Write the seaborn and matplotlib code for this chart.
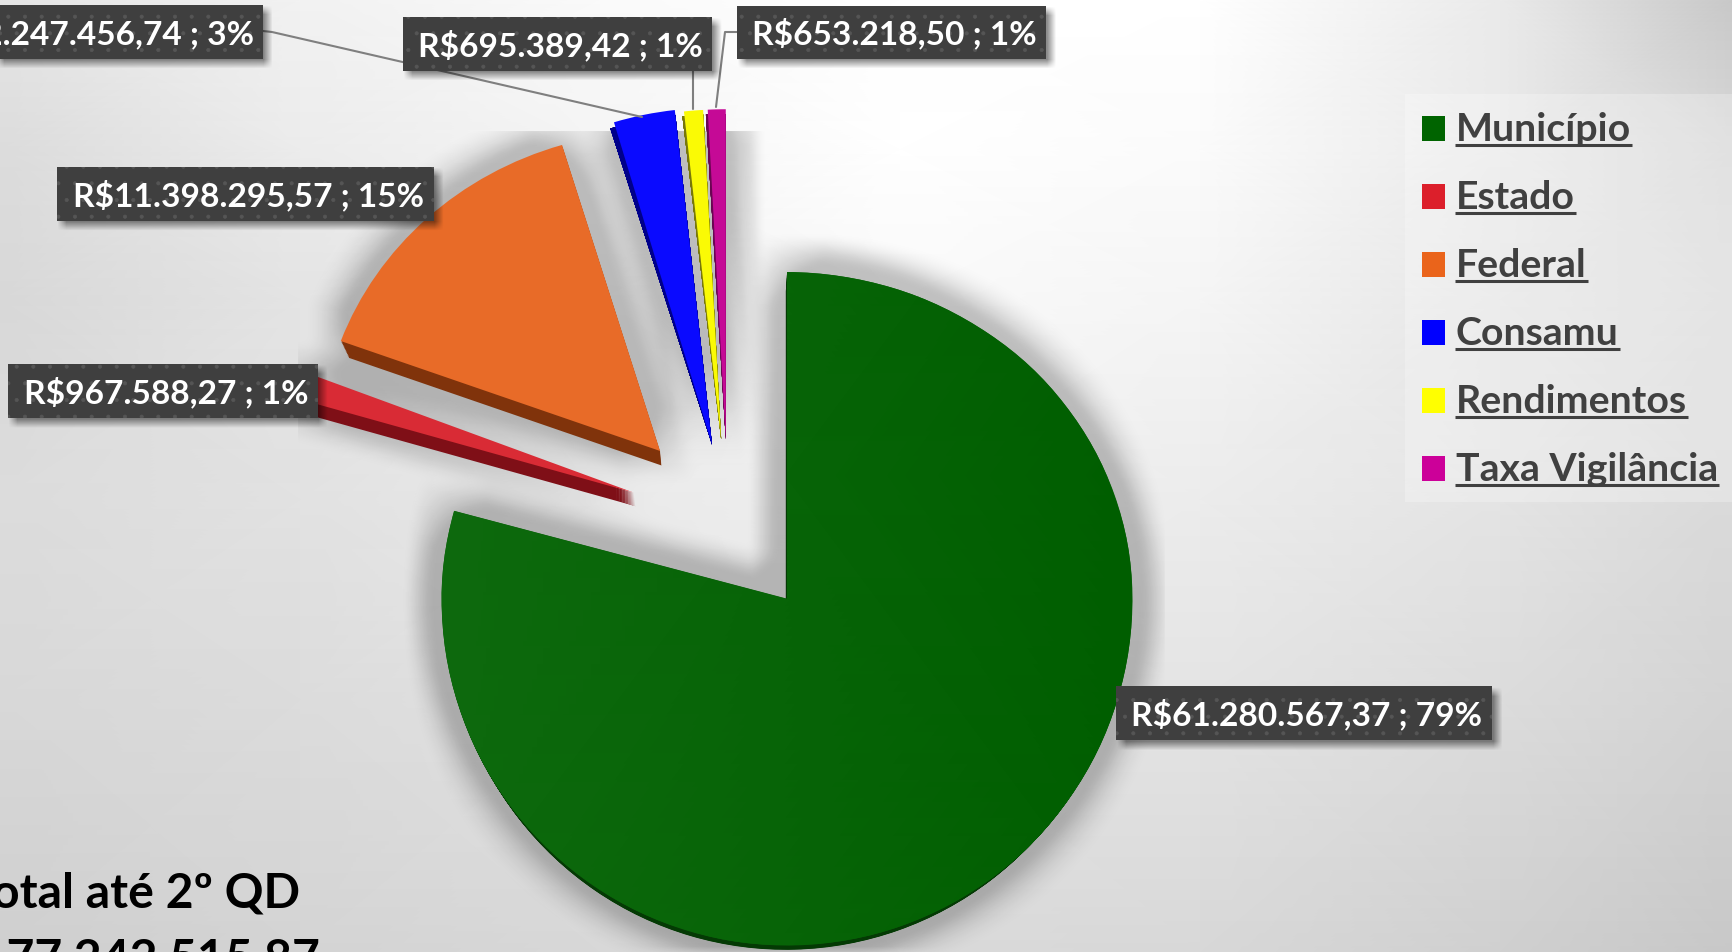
import matplotlib
matplotlib.use('Agg')
import matplotlib.pyplot as plt
from matplotlib.patches import Patch, PathPatch, Rectangle
from matplotlib.path import Path
import numpy as np
import seaborn as sns

W, H = 1733, 953

# data
categories = ['Município', 'Estado', 'Federal', 'Consamu', 'Rendimentos', 'Taxa Vigilância']
values = [61280567.37, 967588.27, 11398295.57, 2247456.74, 695389.42, 653218.50]
value_labels = ['R$61.280.567,37 ; 79%', 'R$967.588,27 ; 1%', 'R$11.398.295,57 ; 15%',
                'R$2.247.456,74 ; 3%', 'R$695.389,42 ; 1%', 'R$653.218,50 ; 1%']
total_lines = ['Total até 2º QD', 'R$ 77.242.515,87']

# styles
top_colors = ['#096309', '#d92b35', '#e86b28', '#0a0aff', '#fafa05', '#c50a96']
side_colors = ['#043a04', '#7f0f17', '#80330b', '#00008a', '#77770a', '#6a0552']
legend_colors = ['#006400', '#dc1f2b', '#ea641b', '#0000ff', '#ffff00', '#cc0099']
explode_px = [95, 99, 99, 80, 84, 84]
# tilt of the 3D pie: each slice is squeezed a bit around its own tip
stretch_x = [1.016, 1, 1, 1, 1, 1]
shift_x = [1.6, 0, 0, 0, 0, 0]
stretch_up = [0.96, 1, 0.94, 0.99, 0.97, 0.97]
stretch_down = [1.02, 1, 1, 1, 1, 1]
side_fan = [0, 0, 0, 0.9, 0.35, 0.35]

CX, CY, R = 728, 524, 340

sns.set_theme(style='white', font='Lato')
plt.rcParams['hatch.linewidth'] = 0.5


def Y(y):
    # picture rows run downwards, the axes run upwards
    return H - y


def tilt(ax, w, i, z):
    p = w.get_patch_transform().transform_path(w.get_path())
    v = p.vertices.copy()
    x0, y0 = w.center
    v[:, 0] = x0 + (v[:, 0] - x0) * stretch_x[i] + shift_x[i]
    v[:, 1] = y0 + (v[:, 1] - y0) * np.where(v[:, 1] > y0, stretch_up[i], stretch_down[i])
    color = w.get_facecolor()
    w.remove()
    return ax.add_patch(PathPatch(Path(v, p.codes), facecolor=color, linewidth=0, zorder=z))


def draw_pie(ax, colors, cy=CY, radius=R, z=3, side=False):
    # explode is taken in data units by pie, so scale it with the radius
    expl = [e * radius / R for e in explode_px]
    wedges, _ = ax.pie(values, colors=colors, explode=expl, startangle=90, counterclock=False,
                       center=(CX, Y(cy)), radius=radius, frame=True,
                       wedgeprops=dict(linewidth=0))
    patches = []
    for i, w in enumerate(wedges):
        if side and i >= 3:
            # thin slices only show a strip on their left edge, tip stays in place
            w.set_center((CX + (w.center[0] - CX) * R / radius, Y(CY) + (w.center[1] - Y(cy)) * R / radius))
            w.set_radius(R - 5)
            w.set_theta2(w.theta2 + side_fan[i])
        patches.append(tilt(ax, w, i, z))
    return patches


def set_limits(ax):
    ax.set_xlim(0, W)
    ax.set_ylim(0, H)
    ax.set_axis_off()


def blur(a, r):
    k = np.ones(2 * r + 1) / (2 * r + 1)
    for axis in (0, 1):
        a = np.apply_along_axis(lambda v: np.convolve(v, k, mode='same'), axis, a)
    return a


def pie_mask():
    # black wedges only, used for the soft shadow
    f = plt.figure(figsize=(W / 100, H / 100), dpi=100)
    a = f.add_axes([0, 0, 1, 1])
    draw_pie(a, ['black'] * 6)
    set_limits(a)
    f.canvas.draw()
    m = 1 - np.asarray(f.canvas.buffer_rgba())[:, :, 0] / 255.0
    plt.close(f)
    return m


fig = plt.figure(figsize=(W / 100, H / 100), dpi=100)
ax = fig.add_axes([0, 0, 1, 1])

# slide background
bg_x = [0, 300, 600, 900, 1200, 1500, 1733]
bg_y = [953, 700, 500, 300, 150, 0]
bg = np.array([[0xcf, 0xd4, 0xd8, 0xda, 0xd8, 0xd0, 0xc8],
               [0xd8, 0xdc, 0xe2, 0xe6, 0xe4, 0xdc, 0xd4],
               [0xdc, 0xe2, 0xea, 0xf0, 0xec, 0xe4, 0xda],
               [0xd8, 0xe4, 0xf0, 0xfa, 0xf5, 0xe6, 0xdc],
               [0xdc, 0xec, 0xf5, 0xff, 0xfb, 0xea, 0xd8],
               [0xe6, 0xf2, 0xfa, 0xff, 0xff, 0xea, 0xc8]]) / 255.0
ax.pcolormesh(bg_x, [Y(y) for y in bg_y], bg, shading='gouraud', cmap='gray', vmin=0, vmax=1, zorder=0)

# soft shadow round the pie, cut off by the chart area like in the slide
mask = pie_mask()
shadow = blur(np.clip(3 * blur(mask, 36), 0, 1), 5)
shadow[:132, :] = 0
shadow[:, :298] = 0
shadow[:, 1164:] = 0
rgba = np.zeros(shadow.shape + (4,))
rgba[:, :, 3] = shadow * 0.23
ax.imshow(rgba, extent=(0, W, 0, H), origin='upper', aspect='auto', zorder=1)

# extruded side: copies shrinking towards the bottom, swept below the top face
for t in np.linspace(1, 0, 14)[:-1]:
    draw_pie(ax, side_colors, cy=CY + 13 * t, radius=R - 7 * t, z=2, side=True)
top = draw_pie(ax, sns.color_palette(top_colors), z=3)

# the big slice gets darker from left to right
green_cmap = sns.blend_palette(['#0e6a0e', '#005e00'], as_cmap=True)
shade = ax.pcolormesh([430, 1140], [0, H], [[0, 1], [0, 1]], shading='gouraud', cmap=green_cmap, zorder=3)
shade.set_clip_path(top[0])

# leader lines
leader_color = '#7f7f7f'
ax.plot([263, 272, 642], [Y(32), Y(33), Y(118)], color=leader_color, lw=1.5, zorder=4)
ax.plot([693, 693], [Y(72), Y(110)], color=leader_color, lw=1.5, zorder=4)
ax.plot([737, 725, 716], [Y(33), Y(33), Y(108)], color=leader_color, lw=1.5, zorder=4)

# value labels: x0, y0, x1, y1 in picture pixels
label_boxes = [(1116, 687, 1492, 741), (8, 365, 318, 419), (57, 168, 434, 222),
               (-73, 6, 263, 60), (403, 18, 712, 72), (737, 7, 1046, 60)]

box_mask = np.zeros(shadow.shape)
for x0, y0, x1, y1 in label_boxes:
    box_mask[y0 + 5:y1 + 5, max(x0 + 5, 0):x1 + 5] = 1
box_shadow = blur(box_mask, 4)
rgba = np.zeros(shadow.shape + (4,))
rgba[:, :, 3] = box_shadow * 0.45
ax.imshow(rgba, extent=(0, W, 0, H), origin='upper', aspect='auto', zorder=5)

for (x0, y0, x1, y1), txt in zip(label_boxes, value_labels):
    ax.add_patch(Rectangle((x0, Y(y1)), x1 - x0, y1 - y0, facecolor='#3f3f3f', edgecolor='#555555',
                           hatch='.', linewidth=0, zorder=6))
    ax.text((x0 + x1) / 2 + 3, Y((y0 + y1) / 2), txt, color='white', fontsize=24.1, fontweight='bold',
            ha='center', va='center', zorder=7)

# legend
handles = [Patch(facecolor=c, edgecolor='none') for c in legend_colors]
leg = ax.legend(handles, categories, loc='upper left', bbox_to_anchor=(1405 / W, Y(95) / H),
                frameon=True, facecolor='white', edgecolor='none', framealpha=0.25, fancybox=False,
                prop=dict(family='Lato', weight='bold', size=28.3), labelcolor='#404040',
                handlelength=0.607, handleheight=0.607, handletextpad=0.27, labelspacing=0.84,
                borderpad=0.42, borderaxespad=0)
leg.set_zorder(8)
for h in leg.legend_handles:
    h.set_y(h.get_y() - 2.2)

# underline the legend entries
fig.canvas.draw()
for t in leg.get_texts():
    bb = t.get_window_extent()
    ax.plot([bb.x0 - 1, bb.x1 + 1], [bb.y0 + 1, bb.y0 + 1], color='#404040', lw=2.2, zorder=9,
            solid_capstyle='butt')

# total, cut off by the edge of the picture
ax.text(300, Y(908), total_lines[0], color='black', fontsize=34.7, fontweight='bold', ha='right', va='baseline', zorder=7)
ax.text(320, Y(973), total_lines[1], color='black', fontsize=34.7, fontweight='bold', ha='right', va='baseline', zorder=7)

set_limits(ax)
fig.savefig('out.png', dpi=100)
